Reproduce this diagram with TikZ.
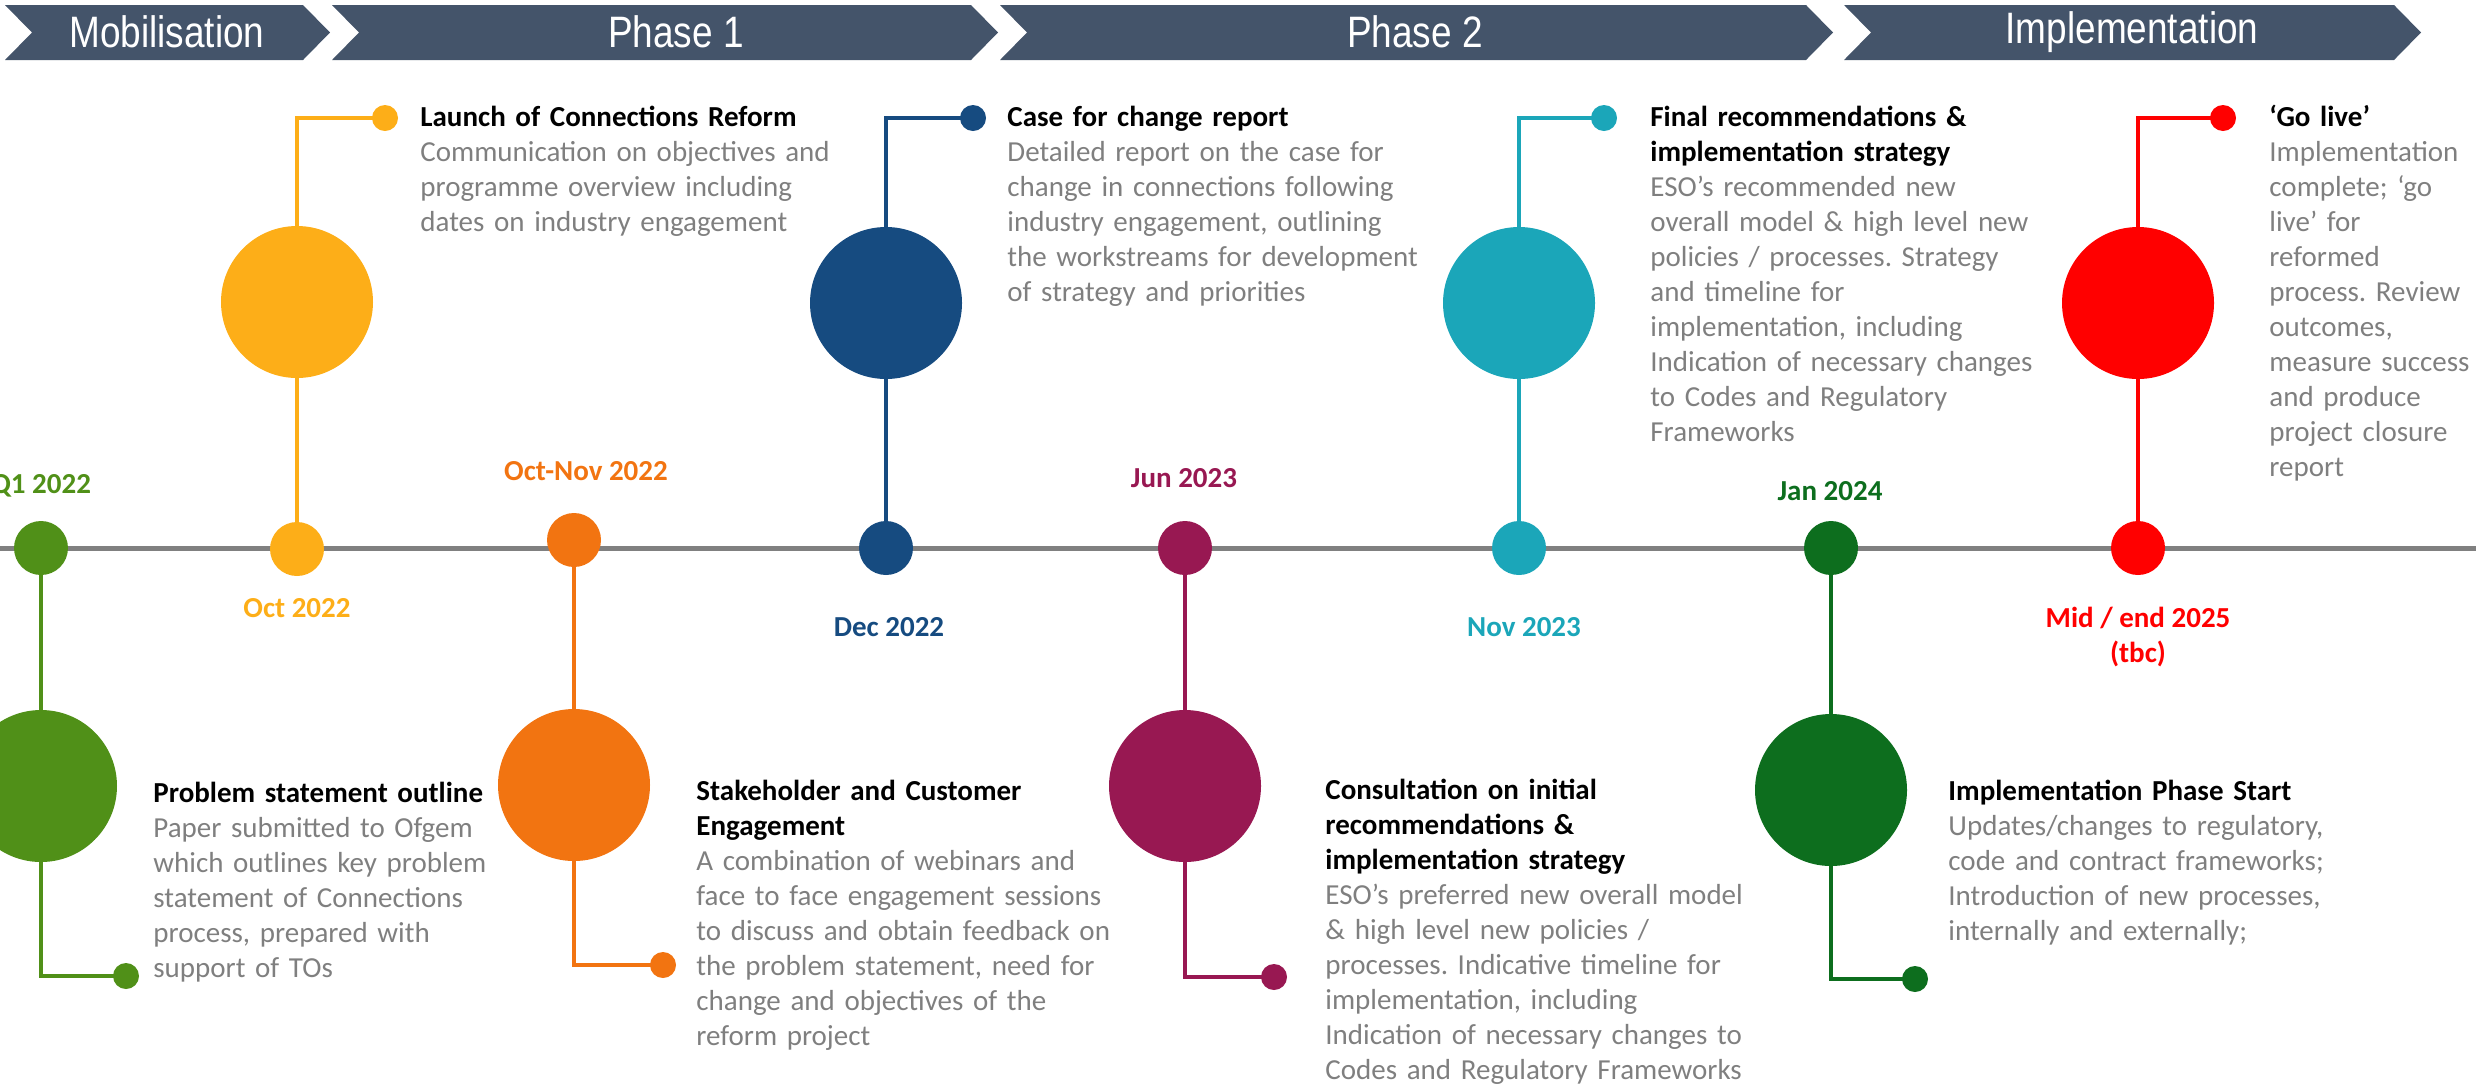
\documentclass[tikz,border=0pt]{standalone}
\usepackage{fontspec}
\setmainfont{Carlito}
\newfontfamily\hdrfont{Liberation Sans}
\usetikzlibrary{backgrounds}
\frenchspacing
\definecolor{hdr}{HTML}{44546A}
\definecolor{bodygray}{HTML}{7F7F7F}
\definecolor{axisgray}{HTML}{808080}
\definecolor{cgreen}{RGB}{80,144,24}
\definecolor{cyellow}{RGB}{253,174,24}
\definecolor{corange}{RGB}{242,116,17}
\definecolor{cblue}{RGB}{22,75,128}
\definecolor{cpurple}{RGB}{152,24,82}
\definecolor{cteal}{RGB}{27,166,185}
\definecolor{cdkgreen}{RGB}{13,110,30}
\definecolor{cred}{RGB}{255,0,0}
\tikzset{
 axisdot/.style={circle, fill=#1, minimum size=27pt, inner sep=0pt},
 bigdot/.style={circle, fill=#1, minimum size=76pt, inner sep=0pt},
 enddot/.style={circle, fill=#1, minimum size=13pt, inner sep=0pt},
 stemline/.style={draw=#1, line width=2pt},
 datelbl/.style={font=\bfseries\fontsize{14.5}{17.5}\selectfont, text=#1, inner sep=0pt, align=center},
 desc/.style={anchor=base west, text width=340pt, align=left, inner sep=0pt, font=\fontsize{14.5}{17.5}\selectfont\frenchspacing, text=bodygray},
 phasetext/.style={font=\hdrfont\fontsize{22}{26}\selectfont, text=white, inner sep=0pt},
 chev/.style={fill=hdr},
}
\newcommand{\ttl}[1]{\textcolor{black}{\textbf{#1}}}
\begin{document}
\begin{tikzpicture}[x=0.5pt,y=-0.5pt]
\useasboundingbox (0,0) rectangle (2476,1089);
% header chevrons
\fill[chev] (5,5) -- (303,5) -- (330,32.5) -- (303,60) -- (5,60) -- (32,32.5) -- cycle;
\fill[chev] (332,5) -- (971,5) -- (998,32.5) -- (971,60) -- (332,60) -- (359,32.5) -- cycle;
\fill[chev] (1000,5) -- (1806,5) -- (1833,32.5) -- (1806,60) -- (1000,60) -- (1027,32.5) -- cycle;
\fill[chev] (1844,5) -- (2394,5) -- (2421,32.5) -- (2394,60) -- (1844,60) -- (1871,32.5) -- cycle;
\node[phasetext] (hm) at (167,32) {\scalebox{0.84}[1]{Mobilisation}};
\node[phasetext] (h1) at (676,32) {\scalebox{0.84}[1]{Phase 1}};
\node[phasetext] (h2) at (1415,32) {\scalebox{0.84}[1]{Phase 2}};
\node[phasetext] (hi) at (2132,32) {\scalebox{0.84}[1]{Implementation}};
% axis
\coordinate (axisL) at (0,548);
\coordinate (axisR) at (2476,548);
% ---- event 1 (green)
\node[axisdot=cgreen] (d1) at (41,548) {};
\node[bigdot=cgreen] (b1) at (41,786) {};
\coordinate (c1) at (41,976);
\node[enddot=cgreen] (e1) at (126,976) {};
\node[datelbl=cgreen] (l1) at (41,486) {Q1 2022};
\node[desc] (t1) at (153,802) {\ttl{Problem statement outline}\\Paper submitted to Ofgem\\which outlines key problem\\statement of Connections\\process, prepared with\\support of TOs};
% ---- event 2 (yellow)
\node[axisdot=cyellow] (d2) at (297,549) {};
\node[bigdot=cyellow] (b2) at (297,302) {};
\coordinate (c2) at (297,118);
\node[enddot=cyellow] (e2) at (385,118) {};
\node[datelbl=cyellow] (l2) at (297,608) {Oct 2022};
\node[desc] (t2) at (420,126) {\ttl{Launch of Connections Reform}\\Communication on objectives and\\programme overview including\\dates on industry engagement};
% ---- event 3 (orange)
\node[axisdot=corange] (d3) at (574,540) {};
\node[bigdot=corange] (b3) at (574,785) {};
\coordinate (c3) at (574,965);
\node[enddot=corange] (e3) at (663,965) {};
\node[datelbl=corange] (l3) at (586,471) {Oct-Nov 2022};
\node[desc] (t3) at (696,800) {\ttl{Stakeholder and Customer}\\\ttl{Engagement}\\A combination of webinars and\\face to face engagement sessions\\to discuss and obtain feedback on\\the problem statement, need for\\change and objectives of the\\reform project};
% ---- event 4 (blue)
\node[axisdot=cblue] (d4) at (886,548) {};
\node[bigdot=cblue] (b4) at (886,303) {};
\coordinate (c4) at (886,118);
\node[enddot=cblue] (e4) at (973,118) {};
\node[datelbl=cblue] (l4) at (889,627) {Dec 2022};
\node[desc] (t4) at (1007,126) {\ttl{Case for change report}\\Detailed report on the case for\\change in connections following\\industry engagement, outlining\\the workstreams for development\\of strategy and priorities};
% ---- event 5 (purple)
\node[axisdot=cpurple] (d5) at (1185,548) {};
\node[bigdot=cpurple] (b5) at (1185,786) {};
\coordinate (c5) at (1185,977);
\node[enddot=cpurple] (e5) at (1274,977) {};
\node[datelbl=cpurple] (l5) at (1184,478) {Jun 2023};
\node[desc] (t5) at (1325,799) {\ttl{Consultation on initial}\\\ttl{recommendations \&}\\\ttl{implementation strategy}\\ESO’s preferred new overall model\\\& high level new policies /\\processes. Indicative timeline for\\implementation, including\\Indication of necessary changes to\\Codes and Regulatory Frameworks};
% ---- event 6 (teal)
\node[axisdot=cteal] (d6) at (1519,548) {};
\node[bigdot=cteal] (b6) at (1519,303) {};
\coordinate (c6) at (1519,118);
\node[enddot=cteal] (e6) at (1604,118) {};
\node[datelbl=cteal] (l6) at (1524,627) {Nov 2023};
\node[desc] (t6) at (1650,126) {\ttl{Final recommendations \&}\\\ttl{implementation strategy}\\ESO’s recommended new\\overall model \& high level new\\policies / processes. Strategy\\and timeline for\\implementation, including\\Indication of necessary changes\\to Codes and Regulatory\\Frameworks};
% ---- event 7 (dark green)
\node[axisdot=cdkgreen] (d7) at (1831,548) {};
\node[bigdot=cdkgreen] (b7) at (1831,790) {};
\coordinate (c7) at (1831,979);
\node[enddot=cdkgreen] (e7) at (1915,979) {};
\node[datelbl=cdkgreen] (l7) at (1830,491) {Jan 2024};
\node[desc] (t7) at (1948,800) {\ttl{Implementation Phase Start}\\Updates/changes to regulatory,\\code and contract frameworks;\\Introduction of new processes,\\internally and externally;};
% ---- event 8 (red)
\node[axisdot=cred] (d8) at (2138,548) {};
\node[bigdot=cred] (b8) at (2138,303) {};
\coordinate (c8) at (2138,118);
\node[enddot=cred] (e8) at (2223,118) {};
\node[datelbl=cred] (l8) at (2138,637) {Mid / end 2025\\(tbc)};
\node[desc] (t8) at (2269,126) {\ttl{‘Go live’}\\Implementation\\complete; ‘go\\live’ for\\reformed\\process. Review\\outcomes,\\measure success\\and produce\\project closure\\report};
% connectors on background
\begin{scope}[on background layer]
\draw[draw=axisgray, line width=2.5pt] (axisL) -- (axisR);
\draw[stemline=cgreen] (d1.center) -- (c1) -- (e1.center);
\draw[stemline=cyellow] (d2.center) -- (c2) -- (e2.center);
\draw[stemline=corange] (d3.center) -- (c3) -- (e3.center);
\draw[stemline=cblue] (d4.center) -- (c4) -- (e4.center);
\draw[stemline=cpurple] (d5.center) -- (c5) -- (e5.center);
\draw[stemline=cteal] (d6.center) -- (c6) -- (e6.center);
\draw[stemline=cdkgreen] (d7.center) -- (c7) -- (e7.center);
\draw[stemline=cred] (d8.center) -- (c8) -- (e8.center);
\end{scope}
\end{tikzpicture}
\end{document}
